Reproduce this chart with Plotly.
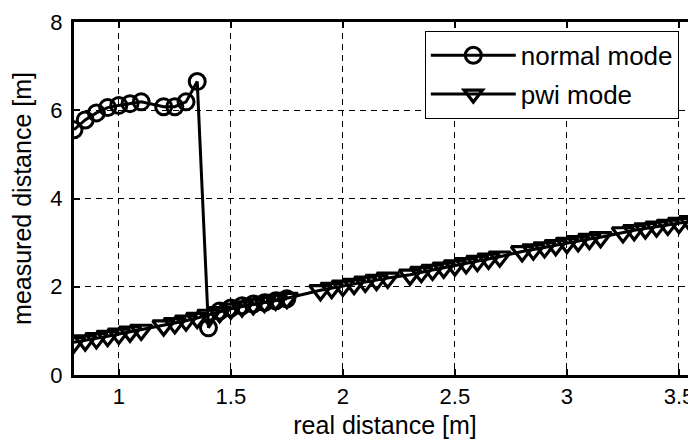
import plotly.graph_objects as go

normal_x = [0.80, 0.85, 0.90, 0.95, 1.00, 1.05, 1.10, 1.20, 1.25, 1.30, 1.35,
            1.40, 1.45, 1.50, 1.55, 1.60, 1.65, 1.70, 1.75]
normal_y = [5.56, 5.78, 5.94, 6.06, 6.11, 6.15, 6.19, 6.08, 6.08, 6.19, 6.65,
            1.07, 1.45, 1.52, 1.57, 1.61, 1.64, 1.68, 1.73]

pwi_x = [0.80, 0.85, 0.90, 0.95, 1.00, 1.05, 1.10, 1.20, 1.25, 1.30, 1.35,
         1.40, 1.45, 1.50, 1.55, 1.60, 1.65, 1.70, 1.75,
         1.90, 1.95, 2.00, 2.05, 2.10, 2.15, 2.20,
         2.30, 2.35, 2.40, 2.45, 2.50, 2.55, 2.60, 2.65, 2.70,
         2.80, 2.85, 2.90, 2.95, 3.00, 3.05, 3.10, 3.15,
         3.25, 3.30, 3.35, 3.40, 3.45, 3.50, 3.55, 3.60]
pwi_y = [0.74, 0.78, 0.83, 0.88, 0.93, 0.98, 1.02, 1.12, 1.17, 1.23, 1.29,
         1.36, 1.42, 1.50, 1.55, 1.60, 1.65, 1.70, 1.74,
         1.92, 1.97, 2.02, 2.06, 2.11, 2.15, 2.20,
         2.27, 2.33, 2.38, 2.43, 2.48, 2.53, 2.58, 2.63, 2.68,
         2.80, 2.84, 2.89, 2.94, 2.99, 3.03, 3.08, 3.12,
         3.23, 3.28, 3.32, 3.36, 3.40, 3.44, 3.48, 3.52]

x_ticks = [1, 1.5, 2, 2.5, 3, 3.5]
x_tick_labels = ["1", "1.5", "2", "2.5", "3", "3.5"]
y_ticks = [0, 2, 4, 6, 8]
y_tick_labels = ["0", "2", "4", "6", "8"]

FONT = "Liberation Sans, Arial, sans-serif"

fig = go.Figure()
fig.add_trace(go.Scatter(
    x=normal_x, y=normal_y, mode="lines+markers", name="normal mode",
    legendgroup="a",
    line=dict(color="black", width=3),
    marker=dict(symbol="circle-open", size=16, color="black", line=dict(width=3)),
))
fig.add_trace(go.Scatter(
    x=pwi_x, y=pwi_y, mode="lines+markers", name="pwi mode",
    legendgroup="b",
    line=dict(color="black", width=3),
    marker=dict(symbol="triangle-down-open", size=19, color="black", line=dict(width=3.2)),
))

fig.update_layout(
    width=688, height=435,
    margin=dict(l=66, r=0, t=14, b=68),
    paper_bgcolor="white", plot_bgcolor="white",
    font=dict(family=FONT, size=22, color="black"),
    showlegend=True,
    legend=dict(
        x=0.564, y=0.975, xanchor="left", yanchor="top",
        bgcolor="white", bordercolor="black", borderwidth=1,
        font=dict(family=FONT, size=26, color="black"),
        traceorder="grouped", tracegroupgap=2, itemwidth=85,
        entrywidth=162, entrywidthmode="pixels",
    ),
    xaxis=dict(
        range=[0.8, 3.576], tickvals=x_ticks, ticktext=x_tick_labels,
        showline=True, linecolor="black", linewidth=3, mirror="ticks",
        ticks="inside", ticklen=6, tickwidth=2, tickcolor="black",
        showgrid=True, gridcolor="black", gridwidth=1, griddash="6px,5px",
        zeroline=False, ticklabelstandoff=0,
        title=dict(text="real distance [m]", font=dict(size=25), standoff=9),
        tickfont=dict(size=22),
    ),
    yaxis=dict(
        range=[0, 8], tickvals=y_ticks, ticktext=y_tick_labels,
        showline=True, linecolor="black", linewidth=3, mirror=False,
        ticks="inside", ticklen=6, tickwidth=2, tickcolor="black",
        showgrid=True, gridcolor="black", gridwidth=1, griddash="6px,5px",
        zeroline=False, ticklabelstandoff=4,
        title=dict(text="measured distance [m]", font=dict(size=25), standoff=13),
        tickfont=dict(size=22),
    ),
)

fig.write_html("out.html")
